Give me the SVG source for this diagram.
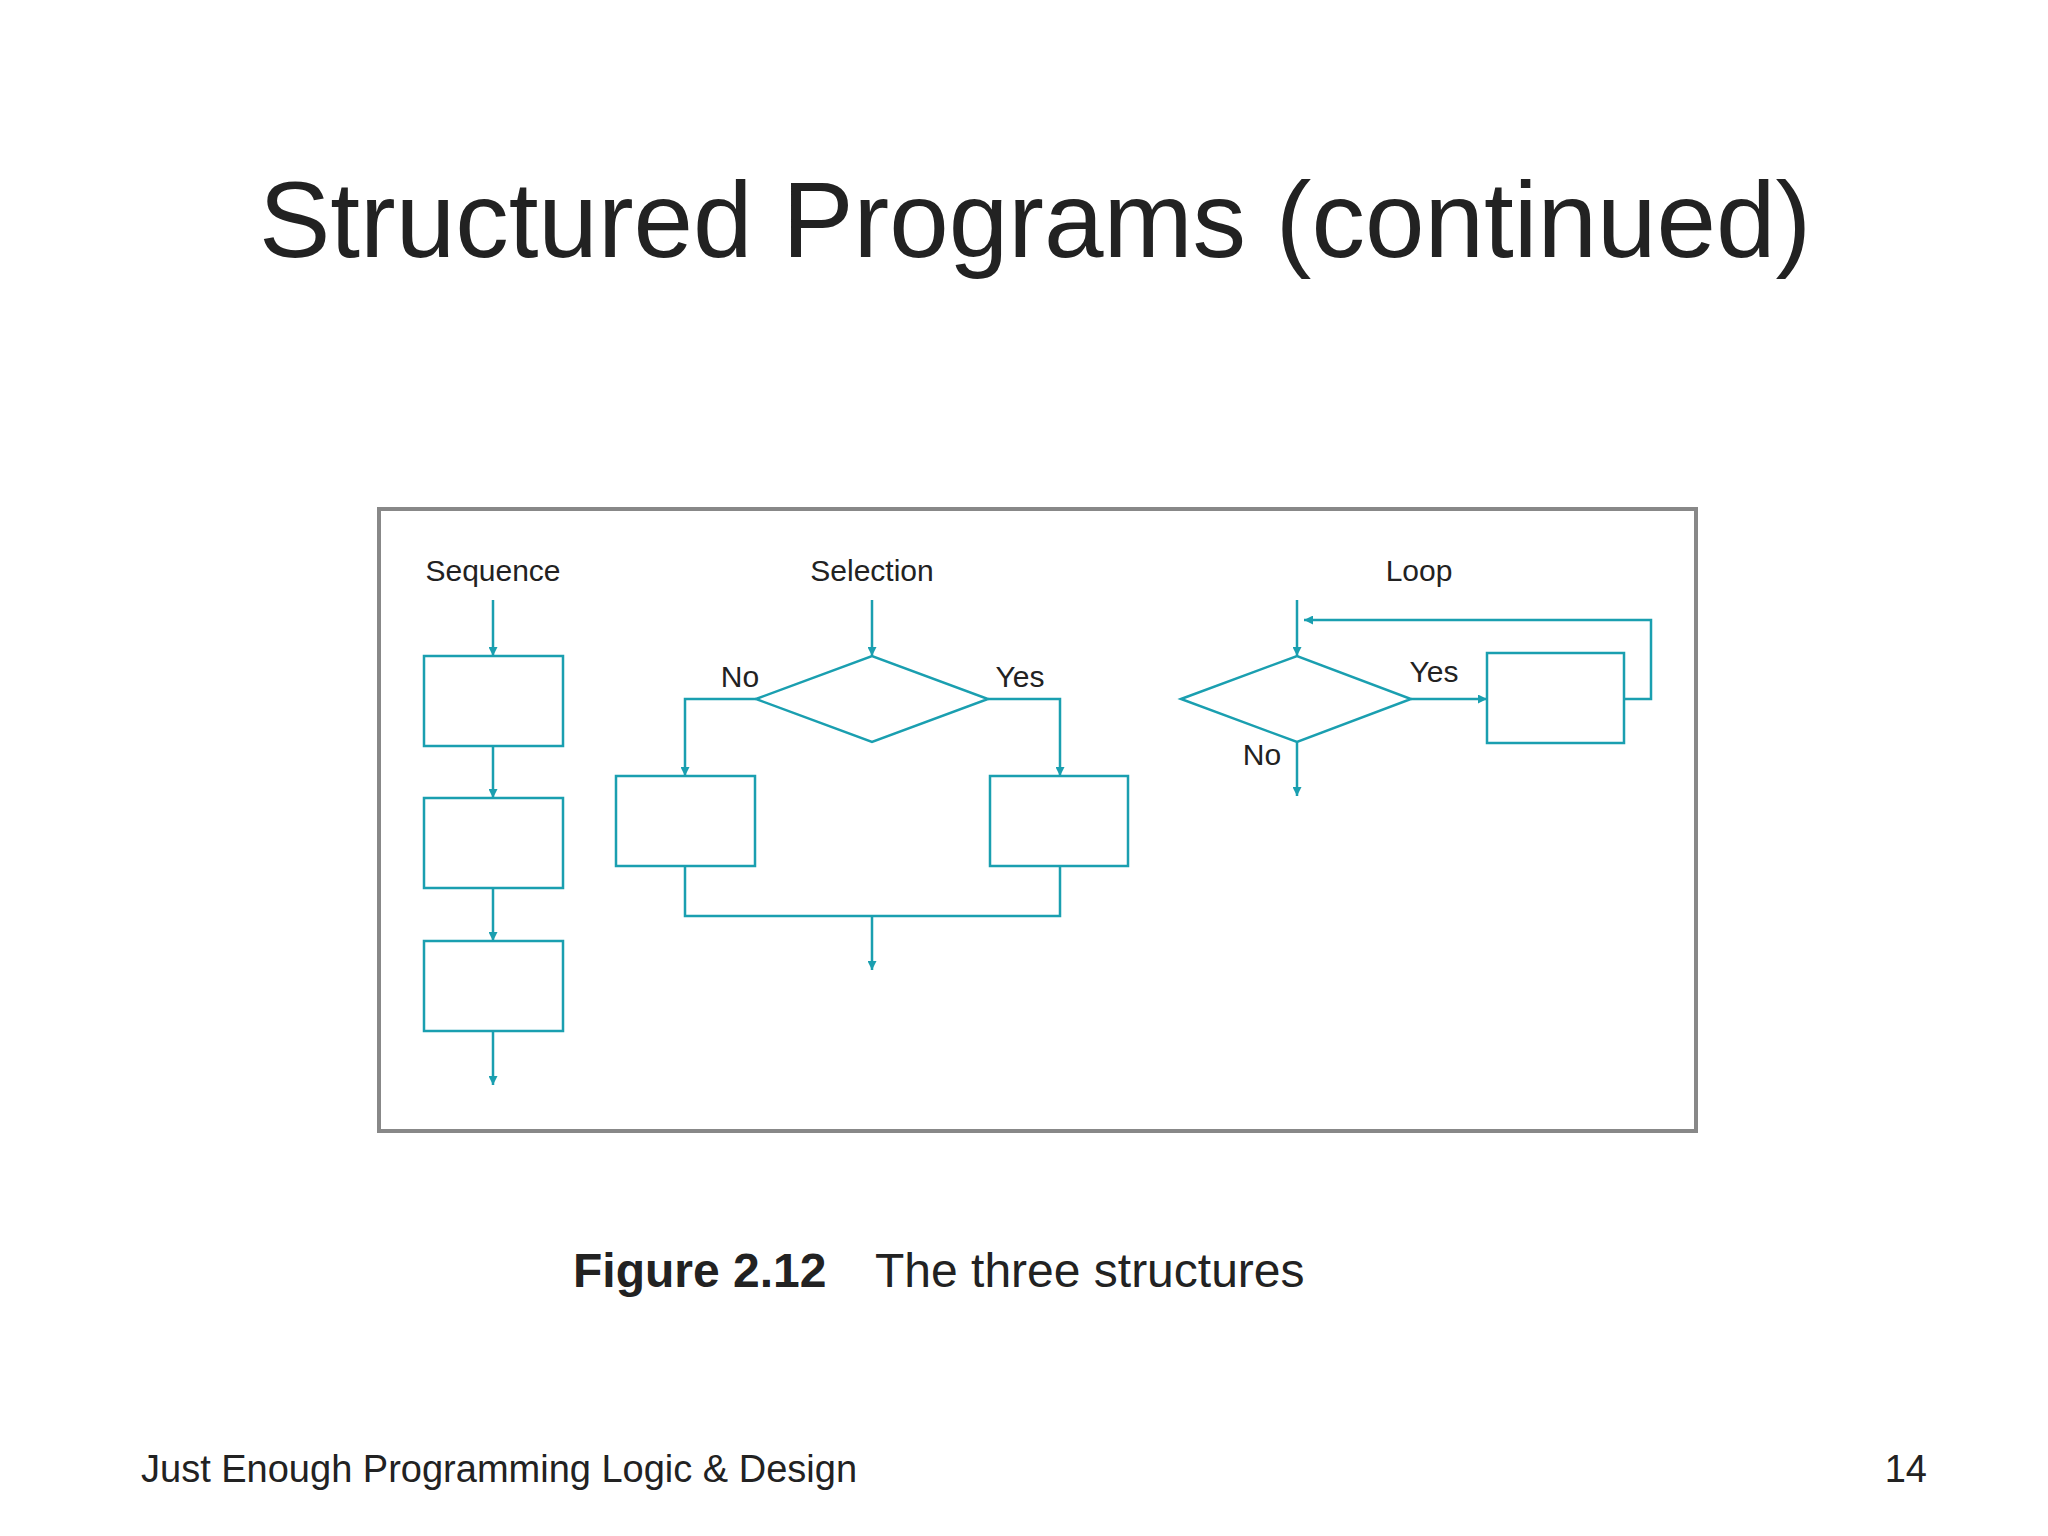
<svg xmlns="http://www.w3.org/2000/svg" width="2048" height="1536" viewBox="0 0 2048 1536">
<style>
.t{font-family:"Liberation Sans",Arial,sans-serif;fill:#222}
.l{font-family:"Liberation Sans",Arial,sans-serif;font-size:30px;fill:#222;text-anchor:middle}
.s{fill:none;stroke:#1a9fb0;stroke-width:2.5}
.b{fill:#fff;stroke:#1a9fb0;stroke-width:2.5}
</style>
<defs><marker id="a" viewBox="0 0 10 10" refX="10" refY="5" markerWidth="5" markerHeight="8" orient="auto" markerUnits="userSpaceOnUse"><path d="M0,0L10,5L0,10z" fill="#1a9fb0" transform="scale(1)"/></marker>
<marker id="m" viewBox="0 0 10 10" refX="10" refY="5" markerWidth="16" markerHeight="9" orient="auto" markerUnits="userSpaceOnUse"><path d="M0,0L10,5L0,10z" fill="#1a9fb0"/></marker></defs>
<rect width="2048" height="1536" fill="#fff"/>
<text class="t" x="1035" y="257" font-size="107" text-anchor="middle">Structured Programs (continued)</text>
<rect x="379" y="509" width="1317" height="622" fill="none" stroke="#888" stroke-width="4"/>
<text class="l" x="493" y="581">Sequence</text>
<text class="l" x="872" y="581">Selection</text>
<text class="l" x="1419" y="581">Loop</text>
<g id="connectors">
<path class="s" d="M493,600V656" marker-end="url(#m)"/>
<path class="s" d="M493,746V798" marker-end="url(#m)"/>
<path class="s" d="M493,888V941" marker-end="url(#m)"/>
<path class="s" d="M493,1031V1085" marker-end="url(#m)"/>
<path class="s" d="M872,600V656" marker-end="url(#m)"/>
<path class="s" d="M756,699H685V776" marker-end="url(#m)"/>
<path class="s" d="M988,699H1060V776" marker-end="url(#m)"/>
<path class="s" d="M685,866V916H1060V866M872,916V970" marker-end="url(#m)"/>
<path class="s" d="M1297,600V656" marker-end="url(#m)"/>
<path class="s" d="M1297,742V796" marker-end="url(#m)"/>
<path class="s" d="M1411,699H1487" marker-end="url(#m)"/>
<path class="s" d="M1624,699H1651V620H1304" marker-end="url(#m)"/>
</g>
<g id="seq1"><rect class="b" x="424" y="656" width="139" height="90"/></g>
<g id="seq2"><rect class="b" x="424" y="798" width="139" height="90"/></g>
<g id="seq3"><rect class="b" x="424" y="941" width="139" height="90"/></g>
<g id="selD"><path class="b" d="M756,699L872,656L988,699L872,742Z"/></g>
<g id="selL"><rect class="b" x="616" y="776" width="139" height="90"/></g>
<g id="selR"><rect class="b" x="990" y="776" width="138" height="90"/></g>
<g id="loopD"><path class="b" d="M1181,699L1297,656L1411,699L1297,742Z"/></g>
<g id="loopB"><rect class="b" x="1487" y="653" width="137" height="90"/></g>
<text class="l" x="740" y="687">No</text>
<text class="l" x="1020" y="687">Yes</text>
<text class="l" x="1262" y="765">No</text>
<text class="l" x="1434" y="682">Yes</text>
<text class="t" x="573" y="1287" font-size="48"><tspan font-weight="bold">Figure 2.12</tspan><tspan x="875">The three structures</tspan></text>
<text class="t" x="141" y="1482" font-size="38">Just Enough Programming Logic &amp; Design</text>
<text class="t" x="1927" y="1482" font-size="38" text-anchor="end">14</text>
</svg>
